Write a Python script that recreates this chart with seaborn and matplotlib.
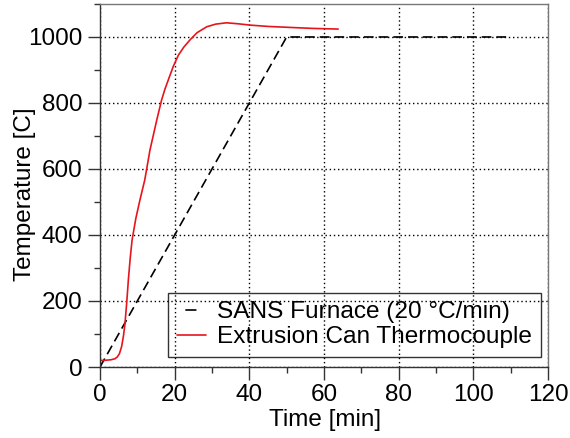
import matplotlib
matplotlib.use("Agg")
import matplotlib.pyplot as plt
import seaborn as sns
import pandas as pd
from matplotlib.ticker import MultipleLocator

# furnace set-point profile (20 C/min ramp, then hold)
furnace_time = [0, 50, 110]
furnace_temp = [0, 1000, 1000]

# thermocouple reading from the extrusion can
tc_time = [0, 1, 2, 3, 4, 4.6, 5.2, 5.8, 6.3, 6.7, 7.2, 7.6, 8.1, 8.6, 9.6,
           10.7, 12, 13.4, 15.2, 16.5, 17.4, 18.3, 19.6, 21, 22.5, 24.1, 26,
           28.6, 31, 33.9, 37, 40.2, 45, 50.9, 57, 63.8]
tc_temp = [20, 20, 21, 22, 25, 30, 40, 62, 95, 132, 200, 264, 330, 385, 450,
           506, 567, 658, 748, 809, 842, 870, 910, 945, 970, 991, 1013, 1031,
           1039, 1043, 1040, 1036, 1032, 1029, 1026, 1024]

sns.set_style("ticks")
plt.rcParams["font.family"] = ["Liberation Sans", "DejaVu Sans"]
plt.rcParams["font.size"] = 17
plt.rcParams["lines.scale_dashes"] = False
plt.rcParams["text.color"] = "black"
plt.rcParams["axes.labelcolor"] = "black"

fig = plt.figure(figsize=(5.7, 4.38), dpi=100)
ax = fig.add_axes([0.1754, 0.1621, 0.786, 0.8288])

furnace = pd.DataFrame({"t": furnace_time, "T": furnace_temp})
tc = pd.DataFrame({"t": tc_time, "T": tc_temp})

sns.lineplot(data=furnace, x="t", y="T", ax=ax, color="black", lw=1.2,
             label="SANS Furnace (20 \u00b0C/min)")
ax.lines[-1].set_linestyle((0, (7, 3.6)))
sns.lineplot(data=tc, x="t", y="T", ax=ax, color="#e8141c", lw=1.2,
             label="Extrusion Can Thermocouple")

ax.set_xlim(0, 120)
ax.set_ylim(0, 1100)
ax.xaxis.set_major_locator(MultipleLocator(20))
ax.xaxis.set_minor_locator(MultipleLocator(10))
ax.yaxis.set_major_locator(MultipleLocator(200))
ax.yaxis.set_minor_locator(MultipleLocator(100))
ax.tick_params(which="major", direction="out", length=9, width=1, pad=3.5,
               labelsize=17.5, colors="#333333", labelcolor="black")
ax.tick_params(which="minor", direction="out", length=4.5, width=1,
               colors="#333333")
ax.grid(True, which="major", color="black", ls=(0, (1, 2)), lw=1)

for side in ["left", "bottom"]:
    ax.spines[side].set_color("#333333")
for side in ["top", "right"]:
    ax.spines[side].set_color("#777777")
for s in ax.spines.values():
    s.set_linewidth(1)

ax.set_xlabel("Time [min]", fontsize=17.5)
ax.set_ylabel("Temperature [C]", fontsize=17.5)
ax.xaxis.set_label_coords(0.502, -0.115)
ax.yaxis.set_label_coords(-0.142, 0.475)

leg = ax.legend(loc="lower right", bbox_to_anchor=(0.984, 0.0275),
                frameon=True, fancybox=False, facecolor="none",
                edgecolor="black", fontsize=17.6, handlelength=1.2,
                handletextpad=0.47, borderpad=0.35, labelspacing=0.12,
                borderaxespad=0)
leg.get_frame().set_linewidth(1)
leg.get_lines()[0].set_linestyle((14, (8, 12)))

fig.savefig("out.png", dpi=100)
